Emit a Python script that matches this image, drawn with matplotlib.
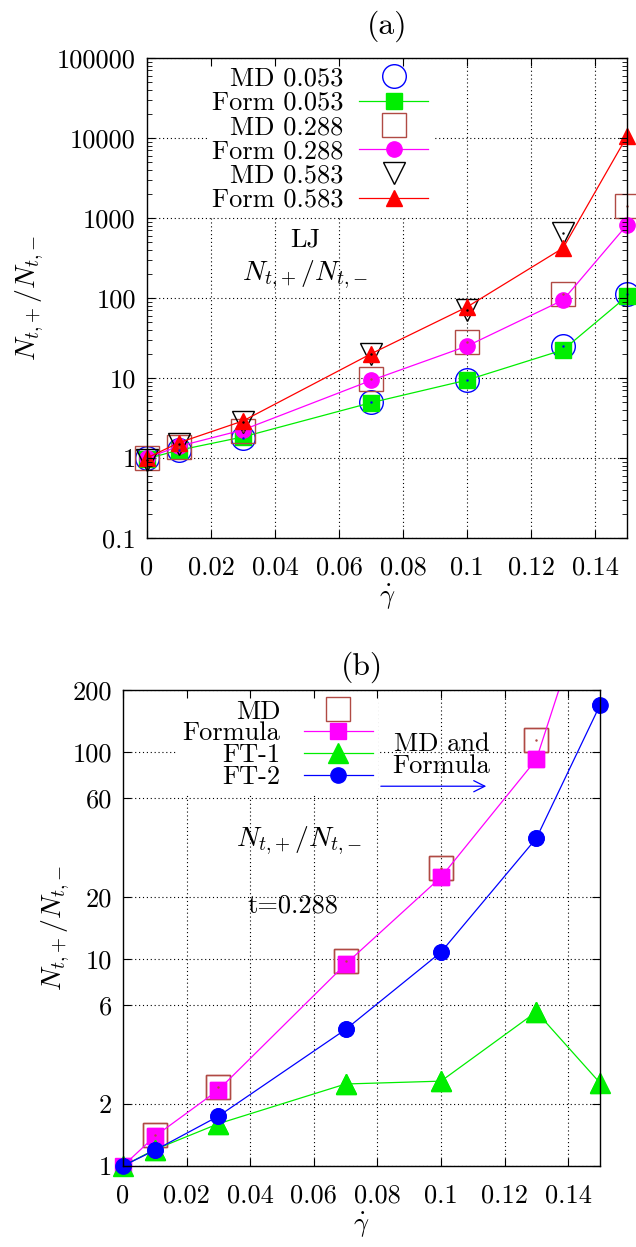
import numpy as np
import matplotlib
matplotlib.use('Agg')
import matplotlib.pyplot as plt
from matplotlib.ticker import FixedLocator, NullLocator, LogLocator, NullFormatter

plt.rcParams['font.family'] = ['cmr10']
plt.rcParams['mathtext.fontset'] = 'cm'
plt.rcParams['axes.unicode_minus'] = False
plt.rcParams['axes.formatter.use_mathtext'] = True
plt.rcParams['font.size'] = 19

# shear rates
rate = [0, 0.01, 0.03, 0.07, 0.1, 0.13, 0.15]

# panel (a): LJ, three temperatures
md_053 = [1.0, 1.26, 1.8, 4.95, 9.5, 25, 112]
form_053 = [0.98, 1.25, 1.83, 4.9, 9.4, 22.4, 105]
md_288 = [1.0, 1.38, 2.2, 9.8, 28, 112, 1400]
form_288 = [1.0, 1.4, 2.24, 9.3, 25, 94, 820]
md_583 = [0.95, 1.5, 2.8, 20, 71, 650]
form_583 = [1.0, 1.55, 2.9, 20, 77, 420, 10500]

# panel (b): t=0.288
md_b = [1.41, 2.4, 9.8, 27.5, 114, 1400]
formula_b = [1.0, 1.39, 2.33, 9.46, 24.9, 92.5, 820]
ft1_b = [1.0, 1.2, 1.6, 2.49, 2.57, 5.56, 2.52]
ft2_b = [1.0, 1.19, 1.74, 4.57, 10.8, 38.4, 169]

xticks = [0, 0.02, 0.04, 0.06, 0.08, 0.1, 0.12, 0.14]
xlabels = ['0', '0.02', '0.04', '0.06', '0.08', '0.1', '0.12', '0.14']
yticks_a = [0.1, 1, 10, 100, 1000, 10000, 100000]
ylabels_a = ['0.1', '1', '10', '100', '1000', '10000', '100000']
yticks_b = [1, 2, 6, 10, 20, 60, 100, 200]
ylabels_b = ['1', '2', '6', '10', '20', '60', '100', '200']

BLUE = '#0000ff'
GREEN = '#00ee00'
BROWN = '#b04a44'
MAG = '#ff00ff'
RED = '#ff0000'
dots = (0, (1, 2.5))
ylab = r'$N_{t{,}+}/N_{t{,}-}$'


def style(ax, yt, yl, ylpad):
    ax.set_yscale('log')
    ax.set_xlim(0, 0.15)
    ax.set_xticks(xticks)
    ax.set_xticklabels(xlabels)
    ax.yaxis.set_major_locator(FixedLocator(yt))
    ax.set_yticklabels(yl)
    for v in xticks[1:]:
        ax.axvline(v, color='k', ls=dots, lw=0.8, zorder=1)
    for v in yt:
        ax.axhline(v, color='k', ls=dots, lw=0.8, zorder=1)
    ax.set_axisbelow(False)
    ax.tick_params(which='both', direction='in', top=True, right=True)
    ax.tick_params(which='major', length=6, width=0.8)
    ax.tick_params(axis='y', which='major', pad=8)
    ax.tick_params(axis='x', which='major', pad=13)
    ax.tick_params(which='minor', length=3.5, width=0.6)
    for s in ax.spines.values():
        s.set_linewidth(1.0)
    ax.set_xlabel(r'$\dot{\gamma}$', labelpad=2)
    ax.set_ylabel(ylab, labelpad=ylpad, fontsize=20)


fig = plt.figure(figsize=(6.36, 12.47), dpi=100)

# ---------------- (a)
ax = fig.add_axes([0.231, 0.5686, 0.755, 0.385])
ax.set_ylim(0.1, 100000)
style(ax, yticks_a, ylabels_a, 8)
ax.yaxis.set_minor_locator(LogLocator(base=10, subs=np.arange(2, 10), numticks=20))
ax.yaxis.set_minor_formatter(NullFormatter())

ax.plot(rate, md_053, ls='none', marker='o', ms=17, mfc='none', mec=BLUE, mew=1,
        clip_on=False, label='MD 0.053')
ax.plot(rate, form_053, color=GREEN, lw=0.9, marker='s', ms=11, mfc=GREEN, mec=GREEN,
        clip_on=False, label='Form 0.053')
ax.plot(rate, md_288, ls='none', marker='s', ms=17, mfc='none', mec=BROWN, mew=1,
        clip_on=False, label='MD 0.288')
ax.plot(rate, form_288, color=MAG, lw=0.9, marker='o', ms=11, mfc=MAG, mec=MAG,
        clip_on=False, label='Form 0.288')
ax.plot(rate[:6], md_583, ls='none', marker='v', ms=16, mfc='none', mec='k', mew=1,
        clip_on=False, label='MD 0.583')
ax.plot(rate, form_583, color=RED, lw=0.9, marker='^', ms=11, mfc=RED, mec=RED,
        clip_on=False, label='Form 0.583')
for ys, c in [(md_053, BLUE), (md_288, BROWN), (md_583, 'k')]:
    ax.plot(rate[:len(ys)], ys, ls='none', marker='.', ms=1.5, color=c, clip_on=False)

leg = ax.legend(loc='upper right', bbox_to_anchor=(0.0894, 90000),
                bbox_transform=ax.transData, markerfirst=False,
                frameon=True, facecolor='white', edgecolor='none', framealpha=1,
                fancybox=False, handlelength=2.6, handletextpad=0.6,
                labelspacing=0.02, borderpad=0.2, borderaxespad=0)
leg.set_zorder(2.1)
ax.text(0.0494, 531, 'LJ', ha='center', va='center')
ax.text(0.0494, 194, ylab, ha='center', va='center', fontsize=20)
ax.set_title('(a)', pad=17)

# ---------------- (b)
ax = fig.add_axes([0.1934, 0.065, 0.75, 0.3817])
ax.set_ylim(1, 200)
style(ax, yticks_b, ylabels_b, 0.5)
ax.yaxis.set_minor_locator(NullLocator())

series_b = [
    (rate[1:], md_b, dict(ls='none', marker='s', ms=17, mfc='none', mec=BROWN, mew=1), 'MD'),
    (rate, formula_b, dict(color=MAG, lw=0.9, marker='s', ms=11, mfc=MAG, mec=MAG), 'Formula'),
    (rate, ft1_b, dict(color=GREEN, lw=0.9, marker='^', ms=14, mfc=GREEN, mec=GREEN), 'FT-1'),
    (rate, ft2_b, dict(color=BLUE, lw=0.9, marker='o', ms=11, mfc=BLUE, mec=BLUE), 'FT-2'),
]
for xs, ys, kw, lab in series_b:
    ax.plot(xs, ys, label=lab, **kw)
    # markers on the frame edge are drawn whole; points above the frame are left out
    xs_in = [x for x, y in zip(xs, ys) if y <= 200]
    ys_in = [y for y in ys if y <= 200]
    kw2 = dict(kw)
    kw2['ls'] = 'none'
    ax.plot(xs_in, ys_in, clip_on=False, **kw2)
xs_in = [x for x, y in zip(rate[1:], md_b) if y <= 200]
ax.plot(xs_in, [y for y in md_b if y <= 200], ls='none', marker='.', ms=1.5, color=BROWN,
        clip_on=False)

leg = ax.legend(loc='upper right', bbox_to_anchor=(0.0802, 190),
                bbox_transform=ax.transData, markerfirst=False,
                frameon=True, facecolor='white', edgecolor='none', framealpha=1,
                fancybox=False, handlelength=2.6, handletextpad=0.9,
                labelspacing=-0.07, borderpad=0.2, borderaxespad=0)
leg.set_zorder(2.1)
ax.annotate('', xy=(0.1151, 68.5), xytext=(0.0802, 68.5),
            arrowprops=dict(arrowstyle='->', color=BLUE, lw=0.9, mutation_scale=20))
ax.text(0.1154, 96.8, 'MD and\nFormula', ha='right', va='center', multialignment='right',
        linespacing=0.95)
ax.text(0.0553, 37.5, ylab, ha='center', va='center', fontsize=20)
ax.text(0.0535, 18.2, 't=0.288', ha='center', va='center')
ax.set_title('(b)', pad=11)

fig.savefig('out.png', dpi=100)
